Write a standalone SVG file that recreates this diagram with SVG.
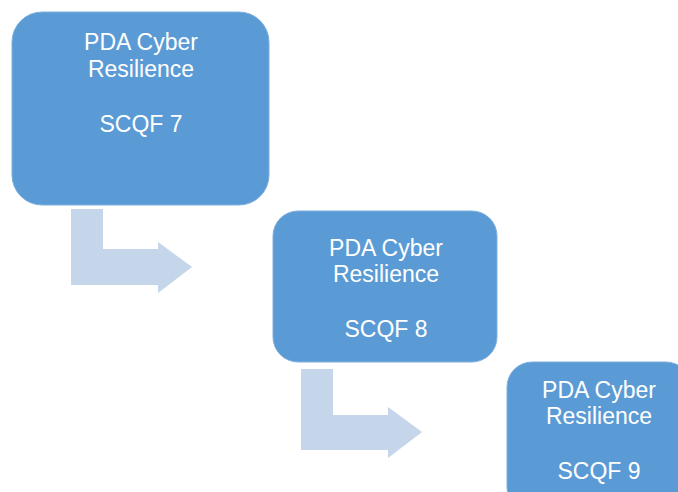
<svg xmlns="http://www.w3.org/2000/svg" width="678" height="492" viewBox="0 0 678 492">
  <style>
    .box { fill: #5b9bd5; stroke: #7fb0de; stroke-width: 1; }
    .arrow { fill: #c5d5ea; }
    .label { font-family: "Liberation Sans", Arial, sans-serif; font-size: 23px; fill: #ffffff; text-anchor: middle; }
  </style>
  <rect width="678" height="492" fill="#ffffff"/>
  <g id="connectors">
    <path class="arrow" d="M71,209 H103 V249 H158 V242 L192,267 L158,293 V285 H71 Z"/>
    <path class="arrow" d="M301,369 H333 V415 H388 V407 L422,432 L388,458 V450 H301 Z"/>
  </g>
  <g id="node-scqf7">
    <rect class="box" x="12" y="12" width="257" height="193" rx="30" ry="30"/>
    <text class="label" x="141" y="50">PDA Cyber</text>
    <text class="label" x="141" y="77">Resilience</text>
    <text class="label" x="141" y="132">SCQF 7</text>
  </g>
  <g id="node-scqf8">
    <rect class="box" x="273" y="211" width="224" height="151" rx="25" ry="25"/>
    <text class="label" x="386" y="256">PDA Cyber</text>
    <text class="label" x="386" y="282">Resilience</text>
    <text class="label" x="386" y="337">SCQF 8</text>
  </g>
  <g id="node-scqf9">
    <rect class="box" x="507" y="362" width="184" height="150" rx="25" ry="25"/>
    <text class="label" x="599" y="398">PDA Cyber</text>
    <text class="label" x="599" y="424">Resilience</text>
    <text class="label" x="599" y="479">SCQF 9</text>
  </g>
</svg>
